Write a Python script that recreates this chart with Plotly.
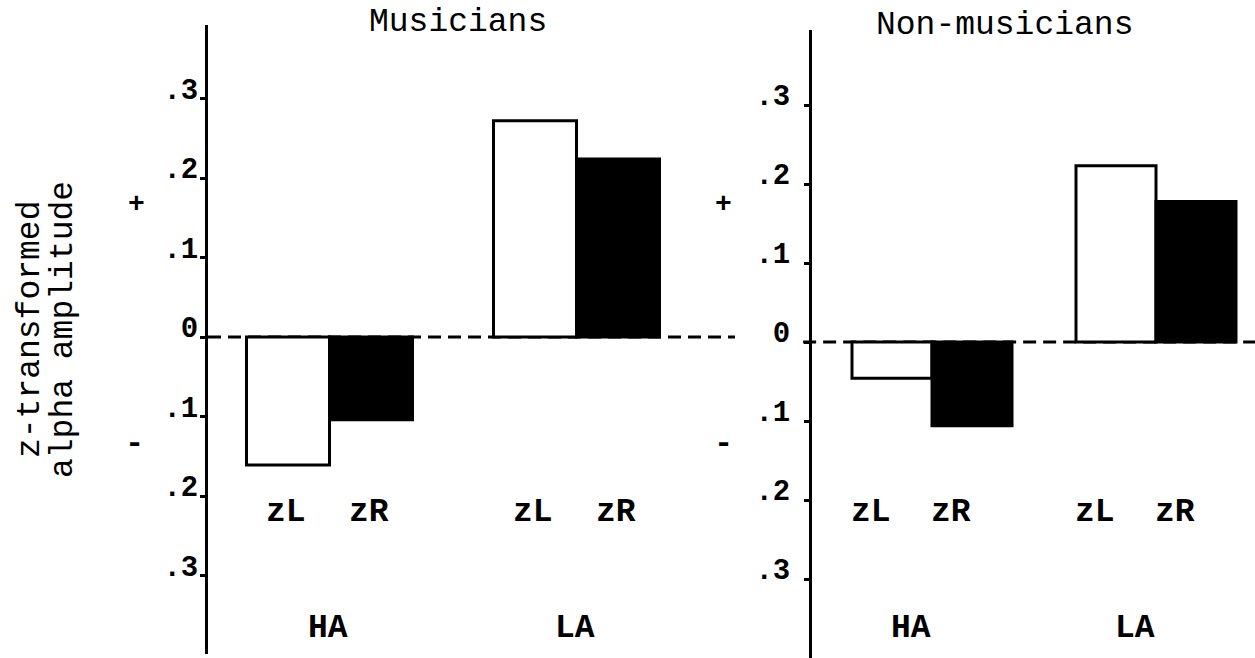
import plotly.graph_objects as go

# ---------------- data ----------------
panels = ["Musicians", "Non-musicians"]
groups = ["HA", "LA"]
conditions = ["zL", "zR"]
musicians_zL = [-0.161, 0.272]
musicians_zR = [-0.104, 0.224]
nonmusicians_zL = [-0.046, 0.223]
nonmusicians_zR = [-0.106, 0.178]
tick_values = [0.3, 0.2, 0.1, 0, -0.1, -0.2, -0.3]
tick_labels = [".3", ".2", ".1", "0", ".1", ".2", ".3"]
y_title_lines = ["z-transformed", "alpha amplitude"]
sign_labels = ["+", "-"]

values = {
    "Musicians": [musicians_zL, musicians_zR],
    "Non-musicians": [nonmusicians_zL, nonmusicians_zR],
}

# ---------------- layout geometry (pixels) ----------------
W, H = 1255, 658
FONT = "Liberation Mono, Courier New, monospace"
geom = {
    "Musicians": dict(axis=208, right=735, top=25, bottom=654, zero=337, ppu=795,
                      first=80, bar=83, step=247, standoff=-4, lab_shift=-2,
                      title_x=458, title_y=23, plus_x=136, minus_x=134),
    "Non-musicians": dict(axis=812, right=1255, top=30, bottom=658, zero=342, ppu=790,
                          first=80, bar=80, step=224, standoff=8, lab_shift=-21,
                          title_x=1004, title_y=26, plus_x=723, minus_x=723),
}
fills = ["white", "black"]

fig = go.Figure()
annotations = []
shapes = []


def txt(x, y, text, size=33, xref="paper", xshift=0, angle=0, weight="bold"):
    return dict(x=x, y=y, xref=xref, yref="paper", text=text, showarrow=False,
                xanchor="center", yanchor="middle", xshift=xshift, textangle=angle,
                font=dict(family=FONT, size=size, color="black", weight=weight))


for i, p in enumerate(panels):
    g = geom[p]
    xa = "x" if i == 0 else "x2"
    ya = "y" if i == 0 else "y2"
    xkey = "xaxis" if i == 0 else "xaxis2"
    ykey = "yaxis" if i == 0 else "yaxis2"
    width_px = g["right"] - g["axis"]

    for c, cond in enumerate(conditions):
        xs = [g["first"] + gi * g["step"] + c * g["bar"] for gi in range(len(groups))]
        fig.add_trace(go.Bar(
            x=xs, y=values[p][c], width=g["bar"],
            marker=dict(color=fills[c], line=dict(color="black", width=3)),
            xaxis=xa, yaxis=ya, showlegend=False, name=f"{p} {cond}",
        ))
        for gi in range(len(groups)):
            annotations.append(txt(xs[gi], 1 - 512 / H, cond, xref=xa, xshift=g["lab_shift"]))
    for gi, grp in enumerate(groups):
        xc = g["first"] + gi * g["step"] + g["bar"] / 2
        annotations.append(txt(xc, 1 - 628 / H, grp, xref=xa, xshift=g["lab_shift"]))

    annotations.append(txt(g["title_x"] / W, 1 - g["title_y"] / H, p, weight="normal"))
    annotations.append(txt(g["plus_x"] / W, 1 - 205 / H, sign_labels[0], size=28))
    annotations.append(txt(g["minus_x"] / W, 1 - 443 / H, sign_labels[1], size=32))

    shapes.append(dict(
        type="line", xref=f"{xa} domain", yref=ya, x0=-0.02 if i == 1 else 0, x1=1,
        y0=0, y1=0, line=dict(color="black", width=3, dash="13px,7px"), layer="below",
    ))

    fig.update_layout({
        xkey: dict(domain=[g["axis"] / W, g["right"] / W], range=[0, width_px],
                   visible=False, anchor=ya),
        ykey: dict(domain=[1 - g["bottom"] / H, 1 - g["top"] / H],
                   range=[-(g["bottom"] - g["zero"]) / g["ppu"], (g["zero"] - g["top"]) / g["ppu"]],
                   anchor=xa, showline=True, linecolor="black", linewidth=3,
                   showgrid=False, zeroline=False,
                   tickmode="array", tickvals=tick_values, ticktext=tick_labels,
                   ticks="outside", ticklen=5, tickwidth=3, tickcolor="black",
                   ticklabelshift=-10, ticklabelstandoff=g["standoff"],
                   tickfont=dict(family=FONT, size=29, color="black", weight="bold")),
    })

for line, xc in zip(y_title_lines, [30, 63]):
    annotations.append(txt(xc / W, 1 - 330 / H, line, angle=-90, weight="normal"))

fig.update_layout(
    width=W, height=H, margin=dict(l=0, r=0, t=0, b=0),
    paper_bgcolor="white", plot_bgcolor="white",
    barmode="overlay", annotations=annotations, shapes=shapes,
)

fig.write_html("out.html", config={"displayModeBar": False},
               post_script="document.body.style.margin='0px';")
